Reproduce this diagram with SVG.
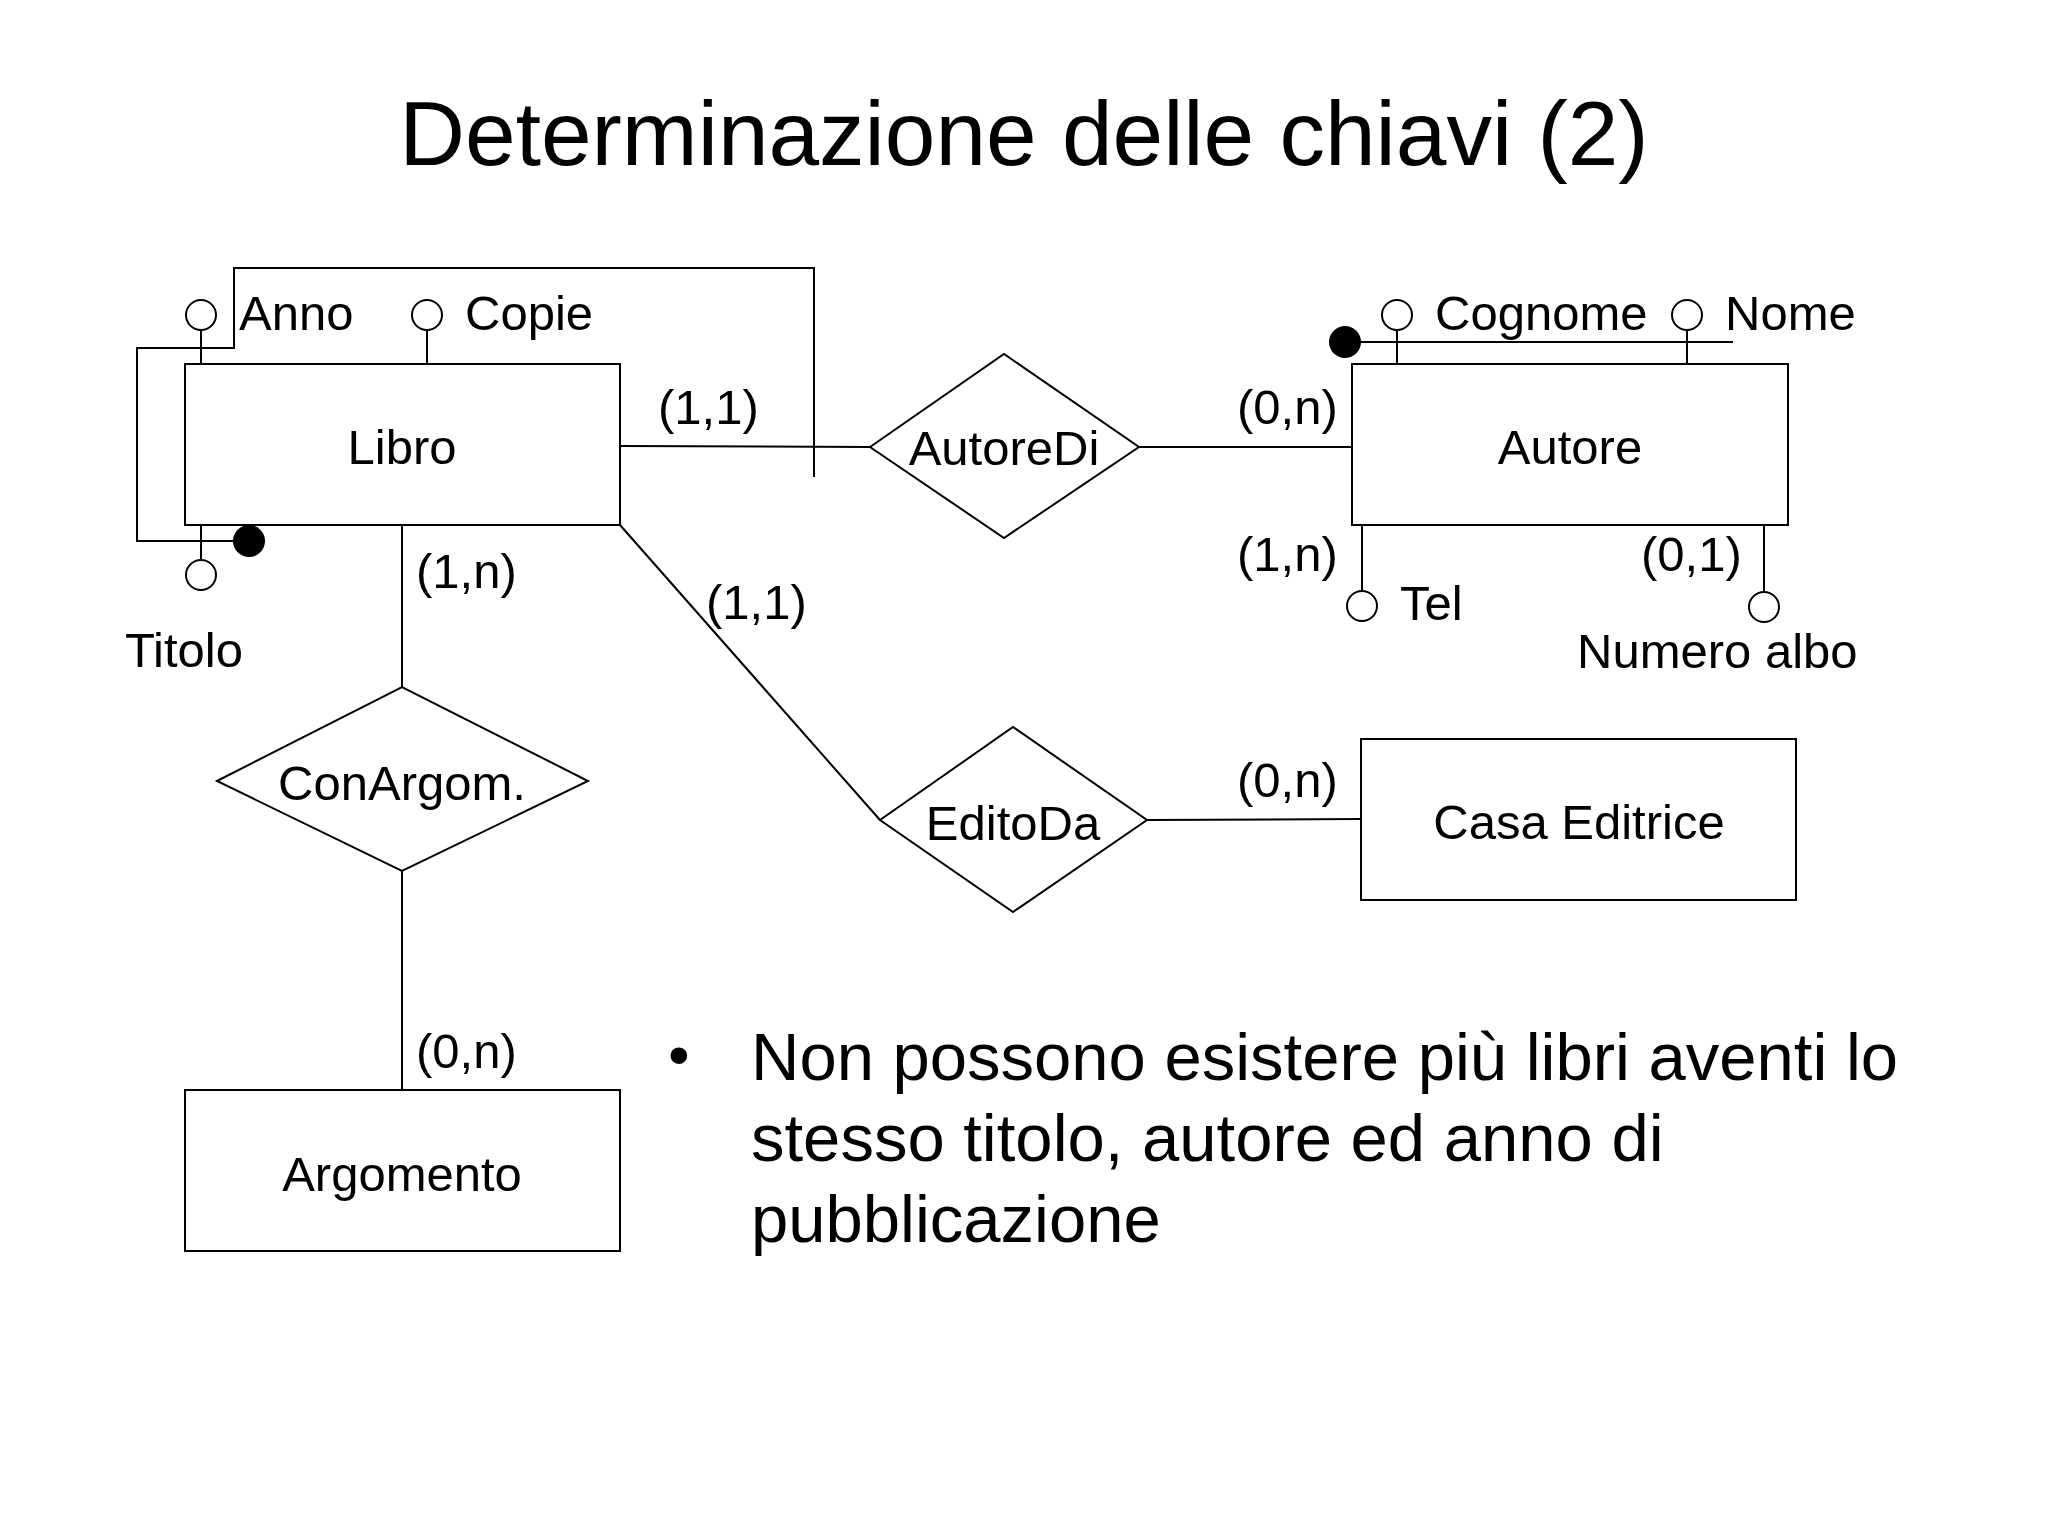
<svg xmlns="http://www.w3.org/2000/svg" width="2048" height="1536" viewBox="0 0 2048 1536">
<style>
text{font-family:"Liberation Sans",Arial,sans-serif;fill:#000}
.l{font-size:49px}
.c{text-anchor:middle}
.b{font-size:67px}
.s{fill:#fff;stroke:#000;stroke-width:2}
.n{fill:none;stroke:#000;stroke-width:2}
.k{fill:#000}
</style>
<rect width="2048" height="1536" fill="#fff"/>
<text x="1024" y="165" class="c" font-size="91">Determinazione delle chiavi (2)</text>
<g id="connectors">
<path class="n" d="M620,446 L870,447"/>
<path class="n" d="M1139,447 L1352,447"/>
<path class="n" d="M620,525 L880,820"/>
<path class="n" d="M1147,820 L1361,819"/>
<path class="n" d="M402,525 L402,687"/>
<path class="n" d="M402,871 L402,1090"/>
<text x="658" y="424" class="l">(1,1)</text>
<text x="1237" y="424" class="l">(0,n)</text>
<text x="706" y="619" class="l">(1,1)</text>
<text x="1237" y="797" class="l">(0,n)</text>
<text x="416" y="588" class="l">(1,n)</text>
<text x="416" y="1068" class="l">(0,n)</text>
<text x="1237" y="571" class="l">(1,n)</text>
<text x="1641" y="571" class="l">(0,1)</text>
</g>
<g id="libro">
<rect class="s" x="185" y="364" width="435" height="161"/>
<text x="402" y="464" class="l c">Libro</text>
<path class="n" d="M201,331 V364 M427,331 V364 M201,525 V559"/>
<circle class="s" cx="201" cy="315" r="15"/>
<circle class="s" cx="427" cy="315" r="15"/>
<circle class="s" cx="201" cy="575" r="15"/>
<text x="239" y="330" class="l">Anno</text>
<text x="465" y="330" class="l">Copie</text>
<text x="125" y="667" class="l">Titolo</text>
<path class="n" d="M249,541 H137 V348 H234 V268 H814 V477"/>
<circle class="k" cx="249" cy="541" r="16"/>
</g>
<g id="autoreDi">
<polygon class="s" points="870,447 1004,354 1139,447 1004,538"/>
<text x="1004" y="465" class="l c">AutoreDi</text>
</g>
<g id="autore">
<rect class="s" x="1352" y="364" width="436" height="161"/>
<text x="1570" y="464" class="l c">Autore</text>
<path class="n" d="M1397,331 V364 M1687,331 V364 M1345,342 H1733 M1362,525 V591 M1764,525 V592"/>
<circle class="s" cx="1397" cy="315" r="15"/>
<circle class="s" cx="1687" cy="315" r="15"/>
<circle class="k" cx="1345" cy="342" r="16"/>
<circle class="s" cx="1362" cy="606" r="15"/>
<circle class="s" cx="1764" cy="607" r="15"/>
<text x="1435" y="330" class="l">Cognome</text>
<text x="1725" y="330" class="l">Nome</text>
<text x="1400" y="620" class="l">Tel</text>
<text x="1577" y="668" class="l">Numero albo</text>
</g>
<g id="editoDa">
<polygon class="s" points="880,820 1013,727 1147,820 1013,912"/>
<text x="1013" y="840" class="l c">EditoDa</text>
</g>
<g id="casaEditrice">
<rect class="s" x="1361" y="739" width="435" height="161"/>
<text x="1579" y="839" class="l c">Casa Editrice</text>
</g>
<g id="conArgom">
<polygon class="s" points="217,781 402,687 588,781 402,871"/>
<text x="402" y="800" class="l c">ConArgom.</text>
</g>
<g id="argomento">
<rect class="s" x="185" y="1090" width="435" height="161"/>
<text x="402" y="1191" class="l c">Argomento</text>
</g>
<g id="note">
<text x="668" y="1076" font-size="62">•</text>
<text x="751" y="1080" class="b">Non possono esistere più libri aventi lo</text>
<text x="751" y="1161" class="b">stesso titolo, autore ed anno di</text>
<text x="751" y="1242" class="b">pubblicazione</text>
</g>
</svg>
